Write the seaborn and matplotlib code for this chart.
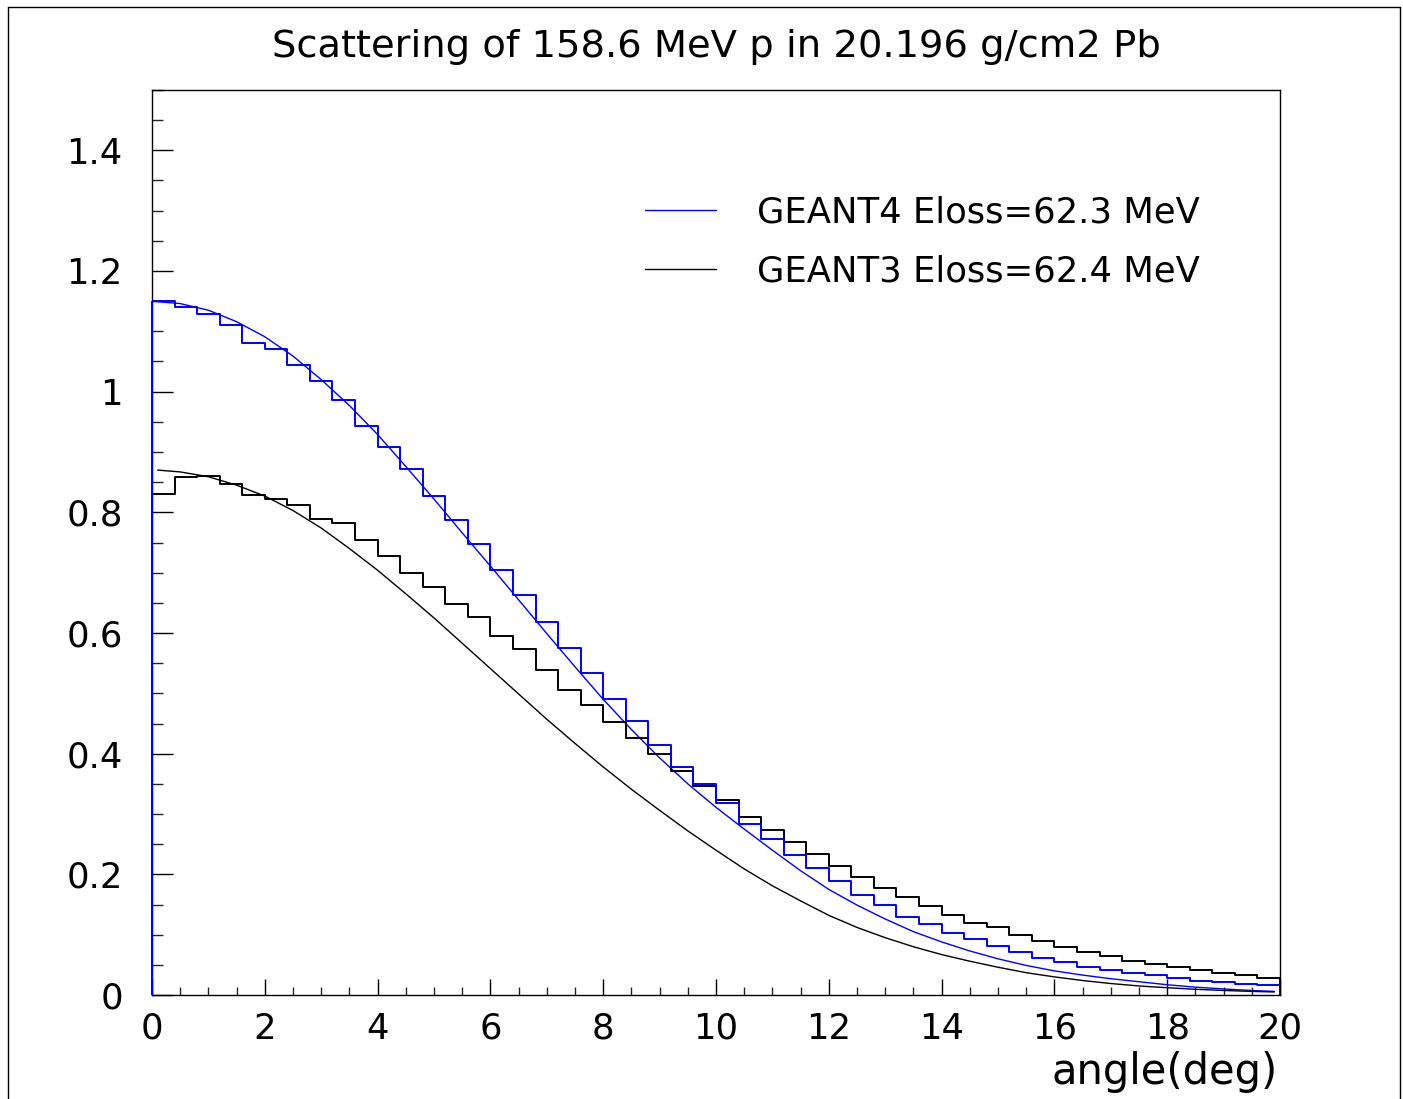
import numpy as np
import pandas as pd
import matplotlib
matplotlib.use("Agg")
import matplotlib.pyplot as plt
import seaborn as sns
from matplotlib.lines import Line2D
from matplotlib.ticker import MultipleLocator, FuncFormatter

# ---------------- data ----------------
title = "Scattering of 158.6 MeV p in 20.196 g/cm2 Pb"
x_label = "angle(deg)"
series_labels = ["GEANT4 Eloss=62.3 MeV", "GEANT3 Eloss=62.4 MeV"]
x_ticks = [0, 2, 4, 6, 8, 10, 12, 14, 16, 18, 20]
y_ticks = [0, 0.2, 0.4, 0.6, 0.8, 1.0, 1.2, 1.4]

bin_edges = np.linspace(0, 20, 51)

g4_hist = [1.150, 1.141, 1.128, 1.111, 1.081, 1.070, 1.044, 1.018, 0.987, 0.943,
           0.908, 0.871, 0.827, 0.787, 0.747, 0.704, 0.663, 0.619, 0.575, 0.533,
           0.490, 0.454, 0.415, 0.378, 0.350, 0.319, 0.284, 0.259, 0.232, 0.210,
           0.189, 0.166, 0.149, 0.130, 0.117, 0.102, 0.092, 0.081, 0.072, 0.061,
           0.055, 0.047, 0.042, 0.036, 0.033, 0.028, 0.024, 0.022, 0.019, 0.016]

g3_hist = [0.830, 0.859, 0.860, 0.847, 0.828, 0.822, 0.812, 0.789, 0.782, 0.754,
           0.728, 0.699, 0.676, 0.648, 0.626, 0.595, 0.574, 0.538, 0.506, 0.481,
           0.453, 0.426, 0.400, 0.371, 0.346, 0.323, 0.295, 0.273, 0.253, 0.234,
           0.213, 0.195, 0.178, 0.163, 0.147, 0.133, 0.120, 0.112, 0.099, 0.090,
           0.080, 0.072, 0.064, 0.057, 0.052, 0.046, 0.041, 0.037, 0.033, 0.029]

g4_curve_x = [0.0, 0.5, 1.0, 1.5, 2.0, 2.5, 3.0, 3.5, 4.0, 4.5, 5.0, 5.5, 6.0,
              6.5, 7.0, 7.5, 8.0, 8.5, 9.0, 9.5, 10.0, 10.5, 11.0, 11.5, 12.0,
              12.5, 13.0, 13.5, 14.0, 14.5, 15.0, 15.5, 16.0, 16.5, 17.0, 17.5,
              18.0, 18.5, 19.0, 19.5, 19.9]
g4_curve_y = [1.150, 1.146, 1.135, 1.116, 1.091, 1.059, 1.020, 0.977, 0.929,
              0.876, 0.822, 0.766, 0.711, 0.655, 0.599, 0.544, 0.490, 0.440,
              0.393, 0.350, 0.311, 0.275, 0.240, 0.206, 0.175, 0.149, 0.126,
              0.105, 0.088, 0.073, 0.060, 0.049, 0.040, 0.033, 0.027, 0.022,
              0.017, 0.013, 0.010, 0.0075, 0.006]

g3_curve_x = [0.1, 0.5, 1.0, 1.5, 2.0, 2.5, 3.0, 3.5, 4.0, 4.5, 5.0, 5.5, 6.0,
              6.5, 7.0, 7.5, 8.0, 8.5, 9.0, 9.5, 10.0, 10.5, 11.0, 11.5, 12.0,
              12.5, 13.0, 13.5, 14.0, 14.5, 15.0, 15.5, 16.0, 16.5, 17.0, 17.5,
              18.0, 18.5, 19.0, 19.5, 19.9]
g3_curve_y = [0.870, 0.867, 0.859, 0.845, 0.827, 0.803, 0.774, 0.740, 0.704,
              0.665, 0.625, 0.583, 0.541, 0.499, 0.457, 0.417, 0.378, 0.341,
              0.306, 0.272, 0.240, 0.209, 0.181, 0.156, 0.132, 0.112, 0.095,
              0.080, 0.067, 0.056, 0.046, 0.037, 0.030, 0.024, 0.019, 0.015,
              0.012, 0.0095, 0.0075, 0.006, 0.005]

# ---------------- style ----------------
sns.set_style("white")
plt.rcParams['font.family'] = ['DejaVu Sans']
plt.rcParams['axes.edgecolor'] = 'black'
plt.rcParams['text.color'] = 'black'

W, H = 1403, 1099
fig = plt.figure(figsize=(W / 100, H / 100), dpi=100)
ax = fig.add_axes([152 / W, 1 - 995 / H, 1128 / W, 905 / H])

blue = '#0000ff'
black = '#000000'

centers = (bin_edges[:-1] + bin_edges[1:]) / 2
bw = float(bin_edges[1] - bin_edges[0])
brange = (float(bin_edges[0]), float(bin_edges[-1]))
df4 = pd.DataFrame({"angle": centers, "w": g4_hist})
df3 = pd.DataFrame({"angle": centers, "w": g3_hist})

for df, vals, col in [(df3, g3_hist, black), (df4, g4_hist, blue)]:
    sns.histplot(data=df, x="angle", weights="w", binwidth=bw, binrange=brange,
                 element="step", fill=False, color=col, linewidth=1.4, ax=ax,
                 zorder=3)
    ax.vlines([bin_edges[0]], 0, vals[0], color=col, linewidth=1.4, zorder=3,
              clip_on=False)
    ax.vlines([bin_edges[-1]], 0, vals[-1], color=col, linewidth=1.4, zorder=3)

c4 = pd.DataFrame({"angle": g4_curve_x, "val": g4_curve_y})
c3 = pd.DataFrame({"angle": g3_curve_x, "val": g3_curve_y})
sns.lineplot(data=c4, x="angle", y="val", color=blue, linewidth=1.0,
             estimator=None, sort=False, ax=ax, label=series_labels[0])
sns.lineplot(data=c3, x="angle", y="val", color=black, linewidth=1.0,
             estimator=None, sort=False, ax=ax, label=series_labels[1])

ax.set_xlim(0, 20)
ax.set_ylim(0, 1.5)
ax.set_xticks(x_ticks)
ax.set_yticks(y_ticks)
ax.xaxis.set_minor_locator(MultipleLocator(0.5))
ax.yaxis.set_minor_locator(MultipleLocator(0.05))
ax.yaxis.set_major_formatter(FuncFormatter(lambda v, p: f"{v:g}"))
ax.xaxis.set_major_formatter(FuncFormatter(lambda v, p: f"{v:g}"))
ax.set_xlabel("")
ax.set_ylabel("")

ax.tick_params(axis='x', which='major', direction='in', length=11.5, width=1.0,
               labelsize=25.5, pad=12, bottom=True, top=False, colors='black')
ax.tick_params(axis='x', which='minor', direction='in', length=5.8, width=1.0,
               bottom=True, top=False)
ax.tick_params(axis='y', which='major', direction='in', length=15, width=1.0,
               labelsize=25.5, pad=21, left=True, right=False, colors='black')
ax.tick_params(axis='y', which='minor', direction='in', length=8, width=1.0,
               left=True, right=False)
for s in ax.spines.values():
    s.set_color('black')
    s.set_linewidth(1.0)
    s.set_visible(True)

leg = ax.legend(loc='center left', bbox_to_anchor=(0.437, 0.832), frameon=False,
                fontsize=25.5, handlelength=2.0, handletextpad=1.16,
                labelspacing=0.72, borderpad=0, borderaxespad=0,
                labelcolor='black')
for h in leg.get_lines():
    h.set_linewidth(1.0)

fig.text(716 / W, 1 - 47 / H, title, ha='center', va='center', fontsize=27.7,
         color='black')
fig.text(1278 / W, 1 - 1072 / H, x_label, ha='right', va='center', fontsize=30,
         color='black')

# outer canvas frame
fx0, fy0, fx1 = 8 / W, 1 - 7 / H, 1400 / W
fig.add_artist(Line2D([fx0, fx0], [0, fy0], transform=fig.transFigure,
                      color='black', linewidth=1.0))
fig.add_artist(Line2D([fx0, fx1], [fy0, fy0], transform=fig.transFigure,
                      color='black', linewidth=1.0))
fig.add_artist(Line2D([fx1, fx1], [0, fy0], transform=fig.transFigure,
                      color='black', linewidth=1.0))

fig.savefig("out.png", dpi=100)
